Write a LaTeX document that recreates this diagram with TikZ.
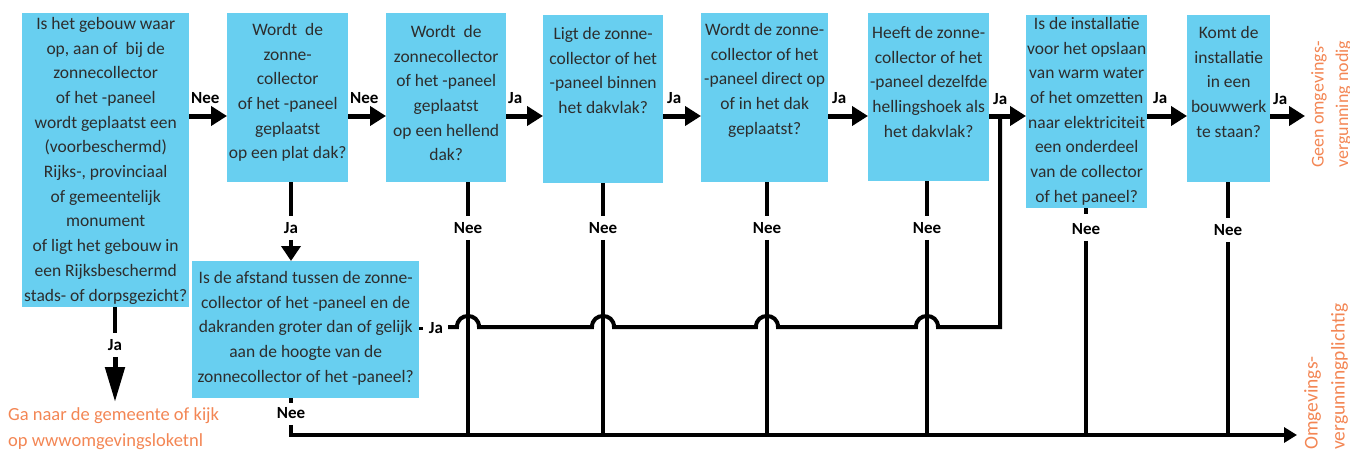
\documentclass[tikz,border=0pt]{standalone}
\usepackage{fontspec}
\setmainfont{Carlito}
\usetikzlibrary{arrows.meta,calc}
\definecolor{boxblue}{RGB}{104,207,240}
\definecolor{txtgray}{RGB}{45,45,45}
\definecolor{orng}{RGB}{243,134,84}
\begin{document}
\begin{tikzpicture}[x=1pt,y=-1pt,
  qbox/.style={fill=boxblue, draw=none, inner sep=0pt, anchor=north west},
  qtext/.style={anchor=north, align=center, inner sep=0pt, text=txtgray, font=\fontsize{17.5}{24.7}\selectfont},
  lab/.style={font=\bfseries\fontsize{17}{20}\selectfont, inner sep=0pt, text=black},
  vlab/.style={lab, inner xsep=1pt, inner ysep=6pt},
  conn/.style={line width=3.5pt},
  harr/.style={line width=5pt, -{Triangle[length=16pt,width=19pt]}},
  otext/.style={inner sep=0pt, align=left, text=orng}
]
\useasboundingbox (0,0) rectangle (1350,452);

% boxes
\node[qbox, minimum width=167pt, minimum height=294pt] (b1) at (22,13) {};
\node[qbox, minimum width=121pt, minimum height=169pt] (b2) at (227,13) {};
\node[qbox, minimum width=120pt, minimum height=169pt] (b3) at (386,13) {};
\node[qbox, minimum width=120pt, minimum height=168pt] (b4) at (543,15) {};
\node[qbox, minimum width=127pt, minimum height=169pt] (b5) at (701,13) {};
\node[qbox, minimum width=121pt, minimum height=168pt] (b6) at (868,13) {};
\node[qbox, minimum width=121pt, minimum height=193pt] (b7) at (1026,15) {};
\node[qbox, minimum width=83pt, minimum height=167pt] (b8) at (1187,15) {};
\node[qbox, minimum width=227pt, minimum height=137pt] (b9) at (192,261) {};

% texts
\node[qtext] (t1) at ($(b1.north)+(0,4)$) {Is het gebouw waar\\op, aan of\ \ bij de\\zonnecollector\\of het -paneel\\wordt geplaatst een\\(voorbeschermd)\\Rijks-, provinciaal\\of gemeentelijk\\monument\\of ligt het gebouw in\\een Rijksbeschermd\\stads- of dorpsgezicht?};
\node[qtext] (t2) at ($(b2.north)+(0,10)$) {Wordt\ \ de\\zonne-\\collector\\of het -paneel\\geplaatst\\op een plat dak?};
\node[qtext] (t3) at ($(b3.north)+(0,12)$) {Wordt\ \ de\\zonnecollector\\of het -paneel\\geplaatst\\op een hellend\\dak?};
\node[qtext] (t4) at ($(b4.north)+(0,12)$) {Ligt de zonne-\\collector of het\\-paneel binnen\\het dakvlak?};
\node[qtext] (t5) at ($(b5.north)+(0,10)$) {Wordt de zonne-\\collector of het\\-paneel direct op\\of in het dak\\geplaatst?};
\node[qtext] (t6) at ($(b6.north)+(0,13)$) {Heeft de zonne-\\collector of het\\-paneel dezelfde\\hellingshoek als\\het dakvlak?};
\node[qtext] (t7) at ($(b7.north)+(0,2)$) {Is de installatie\\voor het opslaan\\van warm water\\of het omzetten\\naar elektriciteit\\een onderdeel\\van de collector\\of het paneel?};
\node[qtext] (t8) at ($(b8.north)+(0,11)$) {Komt de\\installatie\\in een\\bouwwerk\\te staan?};
\node[qtext] (t9) at ($(b9.north)+(0,10)$) {Is de afstand tussen de zonne-\\collector of het -paneel en de\\dakranden groter dan of gelijk\\aan de hoogte van de\\zonnecollector of het -paneel?};

% outcome texts
\node[otext, anchor=north west, font=\fontsize{18.5}{26}\selectfont] (goto) at (8,407) {Ga naar de gemeente of kijk\\op wwwomgevingsloketnl};
\node[otext, rotate=90, anchor=north west, font=\fontsize{18}{24.5}\selectfont] (geen) at (1311,168) {Geen omgevings-\\vergunning nodig};
\node[otext, rotate=90, anchor=north west, font=\fontsize{19.5}{27}\selectfont] (omg) at (1304,450) {Omgevings-\\vergunningplichtig};

% horizontal arrows
\coordinate (ay) at (0,116);
\coordinate (geenin) at (1305,116);
\coordinate (join) at (1000,116);
\draw[harr] (b1.east |- ay) -- (b2.west |- ay);
\draw[harr] (b2.east |- ay) -- (b3.west |- ay);
\draw[harr] (b3.east |- ay) -- (b4.west |- ay);
\draw[harr] (b4.east |- ay) -- (b5.west |- ay);
\draw[harr] (b5.east |- ay) -- (b6.west |- ay);
\draw[harr] (b6.east |- ay) -- (b7.west |- ay);
\draw[harr] (b7.east |- ay) -- (b8.west |- ay);
\draw[harr] (b8.east |- ay) -- (geenin);

\node[lab, anchor=west] (l12) at (191,98) {Nee};
\node[lab, anchor=west] (l23) at (350,98) {Nee};
\node[lab, anchor=west] (l34) at (508,98) {Ja};
\node[lab, anchor=west] (l45) at (667,98) {Ja};
\node[lab, anchor=west] (l56) at (832,98) {Ja};
\node[lab, anchor=west] (l67) at (993,99) {Ja};
\node[lab, anchor=west] (l78) at (1153,98) {Ja};
\node[lab, anchor=west] (l8o) at (1273,99) {Ja};

% box 1 down
\node[vlab] (ja1) at (115,345) {Ja};
\draw[conn] (b1.south -| ja1) -- (ja1.north);
\draw[line width=5pt, -{Triangle[length=35pt,width=19pt]}, shorten >=5pt] (ja1.south) -- (ja1 |- goto.north);

% box 2 down
\node[vlab] (ja2) at (291,228) {Ja};
\draw[conn] (b2.south -| ja2) -- (ja2.north);
\draw[line width=4pt, -{Triangle[length=15pt,width=19pt]}] (ja2.south) -- (ja2 |- b9.north);

% Nee branches
\coordinate (botend) at (1297,435);
\node[vlab] (n3) at (468,228) {Nee};
\node[vlab] (n4) at (603,228) {Nee};
\node[vlab] (n5) at (767,228) {Nee};
\node[vlab] (n6) at (927,228) {Nee};
\node[vlab] (n7) at (1086,229) {Nee};
\node[vlab] (n8) at (1228,230) {Nee};
\node[vlab] (n9) at (291,413) {Nee};
\draw[conn] (b3.south -| n3) -- (n3.north);
\draw[conn] (b4.south -| n4) -- (n4.north);
\draw[conn] (b5.south -| n5) -- (n5.north);
\draw[conn] (b6.south -| n6) -- (n6.north);
\draw[conn] (b7.south -| n7) -- ++(0,6);
\draw[conn] (b8.south -| n8) -- (n8.north);
\draw[conn] (b9.south -| n9) -- ++(0,5);
\foreach \n in {n3,n4,n5,n6,n7,n8} {\draw[conn] (\n.south) -- (\n |- botend);}
\draw[line width=4pt, -{Triangle[length=13pt,width=15pt]}] (n9.south) |- (botend);

% Ja from box 9 with hops
\node[lab] (ja9) at (436,328) {Ja};
\coordinate (jy) at (0,327);
\draw[line width=3pt] (b9.east |- ja9) -- ++(4,0);
\draw[line width=4pt]
  ($(ja9.east |- jy)+(5,0)$)
  -- ($(n3 |- jy)+(-11,0)$) .. controls +(0,-14.7) and +(0,-14.7) .. ($(n3 |- jy)+(11,0)$)
  -- ($(n4 |- jy)+(-11,0)$) .. controls +(0,-14.7) and +(0,-14.7) .. ($(n4 |- jy)+(11,0)$)
  -- ($(n5 |- jy)+(-11,0)$) .. controls +(0,-14.7) and +(0,-14.7) .. ($(n5 |- jy)+(11,0)$)
  -- ($(n6 |- jy)+(-11,0)$) .. controls +(0,-14.7) and +(0,-14.7) .. ($(n6 |- jy)+(11,0)$)
  -- (join |- jy) -- (join);
\end{tikzpicture}
\end{document}
